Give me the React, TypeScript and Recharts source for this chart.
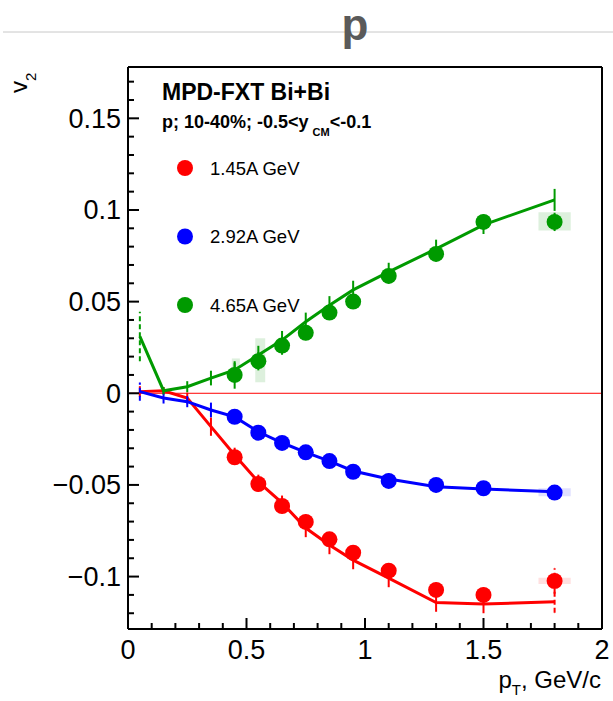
import React from "react";
import {
  ComposedChart,
  Line,
  Scatter,
  XAxis,
  YAxis,
  ErrorBar,
  ReferenceLine,
  ReferenceArea,
} from "recharts";

const FONT = "'Liberation Sans', Arial, Helvetica, sans-serif";

// pT points of the model curves and of the data markers
const PT_MODEL = [0.05, 0.15, 0.25, 0.35, 0.45, 0.55, 0.65, 0.75, 0.85, 0.95, 1.1, 1.3, 1.5, 1.8];
const PT_DATA = [0.45, 0.55, 0.65, 0.75, 0.85, 0.95, 1.1, 1.3, 1.5, 1.8];

// 1.45A GeV
const RED_MODEL = [0.0009, 0.0014, -0.0026, -0.0182, -0.0337, -0.0484, -0.0598, -0.0735, -0.0828, -0.091, -0.1008, -0.1142, -0.115, -0.1137];
const RED_MODEL_ERR = [0.003, 0.002, 0.003, 0.005, 0.004, 0.004, 0.004, 0.005, 0.005, 0.005, 0.005, 0.005, 0.005, 0.006];
const RED_DATA = [-0.0349, -0.0495, -0.0615, -0.0702, -0.0797, -0.087, -0.0968, -0.1073, -0.11, -0.1024];
const RED_DATA_ERR = [0.004, 0.004, 0.004, 0.004, 0.004, 0.004, 0.004, 0.004, 0.004, 0.007];

// 2.92A GeV
const BLUE_MODEL = [0.0009, -0.0026, -0.0046, -0.0091, -0.0129, -0.021, -0.027, -0.0322, -0.037, -0.0424, -0.0468, -0.051, -0.0522, -0.0537];
const BLUE_MODEL_ERR = [0.005, 0.003, 0.003, 0.004, 0.003, 0.003, 0.003, 0.003, 0.003, 0.003, 0.003, 0.003, 0.003, 0.003];
const BLUE_DATA = [-0.0128, -0.0215, -0.0271, -0.0322, -0.037, -0.0428, -0.0478, -0.05, -0.0518, -0.0542];
const BLUE_DATA_ERR = [0.003, 0.003, 0.003, 0.003, 0.003, 0.003, 0.003, 0.003, 0.003, 0.003];

// 4.65A GeV
const GREEN_MODEL = [0.031, 0.0014, 0.0036, 0.0083, 0.0127, 0.0209, 0.029, 0.039, 0.048, 0.0564, 0.0662, 0.0788, 0.0919, 0.1055];
const GREEN_MODEL_ERR = [0.0135, 0.002, 0.003, 0.004, 0.004, 0.005, 0.005, 0.005, 0.005, 0.005, 0.005, 0.005, 0.005, 0.006];
const GREEN_DATA = [0.01, 0.0175, 0.026, 0.033, 0.044, 0.05, 0.064, 0.076, 0.0935, 0.0935];
const GREEN_DATA_ERR = [0.0075, 0.005, 0.005, 0.004, 0.004, 0.004, 0.004, 0.004, 0.004, 0.005];

// systematic boxes: pT, centre, half height, half width
const RED_SYS = [{ x: 1.8, y: -0.1024, e: 0.0017, dx: 0.068 }];
const BLUE_SYS = [{ x: 1.8, y: -0.054, e: 0.0022, dx: 0.068 }];
const GREEN_SYS = [
  { x: 0.455, y: 0.0125, e: 0.0065, dx: 0.017 },
  { x: 0.558, y: 0.018, e: 0.012, dx: 0.021 },
  { x: 1.8, y: 0.0938, e: 0.005, dx: 0.068 },
];

const X_TICKS = Array.from({ length: 21 }, (_, i) => i / 10);
const Y_TICKS = Array.from({ length: 30 }, (_, i) => (i - 12) / 100);
const Y_DOMAIN = [-0.1286, 0.178];

const toPoints = (xs: number[], ys: number[], errs: number[], dashed: number[] = []) =>
  xs.map((x, i) => ({
    x,
    y: ys[i],
    err: dashed.includes(i) ? 0 : errs[i],
    errD: dashed.includes(i) ? errs[i] : 0,
  }));

const SERIES = [
  {
    name: "1.45A GeV",
    color: "#ff0000",
    box: "#ffe0e0",
    model: toPoints(PT_MODEL, RED_MODEL, RED_MODEL_ERR, [13]),
    data: toPoints(PT_DATA, RED_DATA, RED_DATA_ERR, [9]),
    sys: RED_SYS,
  },
  {
    name: "2.92A GeV",
    color: "#0000ff",
    box: "#e0e0ff",
    model: toPoints(PT_MODEL, BLUE_MODEL, BLUE_MODEL_ERR, [0]),
    data: toPoints(PT_DATA, BLUE_DATA, BLUE_DATA_ERR),
    sys: BLUE_SYS,
  },
  {
    name: "4.65A GeV",
    color: "#009a00",
    box: "#ddf0dd",
    model: toPoints(PT_MODEL, GREEN_MODEL, GREEN_MODEL_ERR, [0]),
    data: toPoints(PT_DATA, GREEN_DATA, GREEN_DATA_ERR),
    sys: GREEN_SYS,
  },
];

const fmt = (v: number) => (v < 0 ? "\u2212" + String(-v) : String(v));

// ticks point into the frame, labels only on the major ones
const XTick = (props: any) => {
  const { x, y, payload } = props;
  const v = payload.value;
  const major = Math.round(v * 10) % 5 === 0;
  return (
    <g>
      <line x1={x} x2={x} y1={y} y2={y - (major ? 11 : 6)} stroke="#000" strokeWidth={2} />
      {major && (
        <text x={x} y={y + 30} textAnchor="middle" fontSize={27} fontFamily={FONT} fill="#000">
          {fmt(v)}
        </text>
      )}
    </g>
  );
};

const YTick = (props: any) => {
  const { x, y, payload } = props;
  const v = payload.value;
  const major = Math.round(v * 100) % 5 === 0;
  return (
    <g>
      <line x1={x} x2={x + (major ? 11 : 6)} y1={y} y2={y} stroke="#000" strokeWidth={2} />
      {major && (
        <text x={x - 7} y={y + 9.5} textAnchor="end" fontSize={27} fontFamily={FONT} fill="#000">
          {fmt(v)}
        </text>
      )}
    </g>
  );
};

const LEGEND_Y = [168, 236.5, 305];

export default function App() {
  return (
    <div style={{ position: "absolute", left: 0, top: 0, width: 613, height: 701, background: "#fff" }}>
      <ComposedChart width={613} height={701} margin={{ top: 66, right: 10, bottom: 71, left: 127 }}>
        <XAxis
          dataKey="x"
          type="number"
          domain={[0, 2]}
          ticks={X_TICKS}
          interval={0}
          tick={<XTick />}
          tickLine={false}
          tickSize={0}
          tickMargin={0}
          height={1}
          axisLine={{ stroke: "#000", strokeWidth: 2 }}
          allowDataOverflow
        />
        <XAxis
          xAxisId="top"
          orientation="top"
          type="number"
          domain={[0, 2]}
          tick={false}
          tickLine={false}
          height={1}
          axisLine={{ stroke: "#000", strokeWidth: 2 }}
        />
        <YAxis
          type="number"
          domain={Y_DOMAIN}
          ticks={Y_TICKS}
          interval={0}
          tick={<YTick />}
          tickLine={false}
          tickSize={0}
          tickMargin={0}
          width={1}
          axisLine={{ stroke: "#000", strokeWidth: 2 }}
          allowDataOverflow
        />
        <YAxis
          yAxisId="right"
          orientation="right"
          type="number"
          domain={Y_DOMAIN}
          tick={false}
          tickLine={false}
          width={1}
          axisLine={{ stroke: "#000", strokeWidth: 2 }}
        />
        {SERIES.flatMap((s) =>
          s.sys.map((b, i) => (
            <ReferenceArea
              key={s.name + "sys" + i}
              x1={b.x - b.dx}
              x2={b.x + b.dx}
              y1={b.y - b.e}
              y2={b.y + b.e}
              fill={s.box}
              fillOpacity={1}
              stroke="none"
            />
          ))
        )}
        <ReferenceLine y={0} stroke="#ff0000" strokeWidth={1} />
        {SERIES.map((s) => (
          <Line
            key={s.name + "model"}
            data={s.model}
            dataKey="y"
            type="linear"
            stroke={s.color}
            strokeWidth={3}
            dot={false}
            isAnimationActive={false}
          >
            <ErrorBar dataKey="err" direction="y" width={0} stroke={s.color} strokeWidth={2} />
            <ErrorBar dataKey="errD" direction="y" width={0} stroke={s.color} strokeWidth={2} strokeDasharray="5 3" />
          </Line>
        ))}
        {SERIES.map((s) => (
          <Scatter
            key={s.name + "data"}
            data={s.data}
            dataKey="y"
            fill={s.color}
            isAnimationActive={false}
            shape={(p: any) => <circle cx={p.cx} cy={p.cy} r={8} fill={s.color} />}
          >
            <ErrorBar dataKey="err" direction="y" width={0} stroke={s.color} strokeWidth={2} />
            <ErrorBar dataKey="errD" direction="y" width={0} stroke={s.color} strokeWidth={2} strokeDasharray="5 3" />
          </Scatter>
        ))}
      </ComposedChart>
      <svg
        width={613}
        height={701}
        style={{ position: "absolute", left: 0, top: 0, pointerEvents: "none" }}
        fontFamily={FONT}
      >
        <line x1={3} x2={613} y1={32} y2={32} stroke="#c8c8c8" strokeWidth={1} />
        <text x={355} y={40} textAnchor="middle" fontSize={44} fontWeight="bold" fill="#5a5a5a">
          p
        </text>
        <text x={27} y={93} transform="rotate(-90 27 93)" fontSize={24} fill="#000">
          v
          <tspan fontSize={15} dy={9}>
            2
          </tspan>
        </text>
        <text x={601} y={688} textAnchor="end" fontSize={24} fill="#000">
          p
          <tspan fontSize={15} dy={7}>
            T
          </tspan>
          <tspan dy={-7}>, GeV/c</tspan>
        </text>
        <text x={162} y={100} fontSize={23} fontWeight="bold" fill="#000">
          MPD-FXT Bi+Bi
        </text>
        <text x={162} y={128} fontSize={18} fontWeight="bold" fill="#000">
          p; 10-40%; -0.5&lt;y
          <tspan fontSize={11} dx={4} dy={8}>
            CM
          </tspan>
          <tspan dy={-8}>&lt;-0.1</tspan>
        </text>
        {SERIES.map((s, i) => (
          <g key={s.name + "legend"}>
            <circle cx={185} cy={LEGEND_Y[i]} r={8} fill={s.color} />
            <text x={210} y={LEGEND_Y[i] + 6.5} fontSize={18.5} fill="#000">
              {s.name}
            </text>
          </g>
        ))}
      </svg>
    </div>
  );
}
